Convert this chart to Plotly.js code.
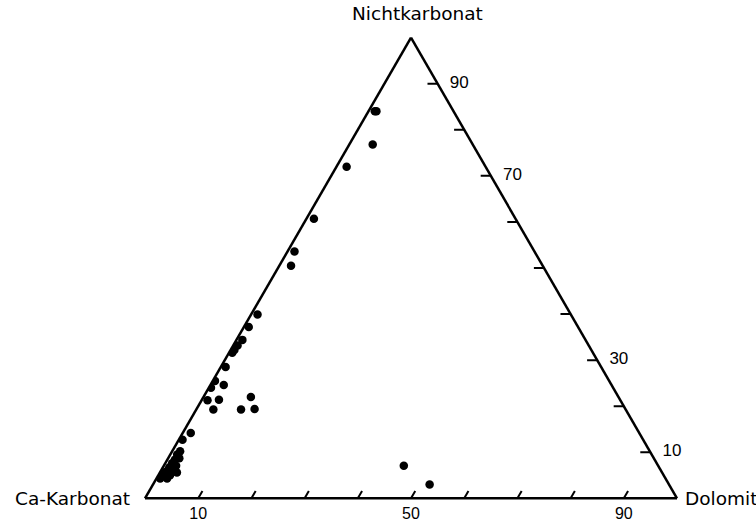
<!DOCTYPE html>
<html>
<head>
<meta charset="utf-8">
<script src="https://cdn.plot.ly/plotly-3.0.1.min.js"></script>
<style>html,body{margin:0;padding:0;background:#fff;}#chart{width:756px;height:524px;}</style>
</head>
<body>
<div id="chart"></div>
<script>
// Component values in percent (each point: Nichtkarbonat + Ca-Karbonat + Dolomit = 100)
const nichtkarbonat = [84.0, 84.0, 76.8, 72.0, 60.7, 53.6, 50.5, 39.9, 37.2, 34.4, 33.2, 32.2, 31.6, 28.5, 25.5, 24.6, 24.0, 21.3, 21.4, 19.3, 22.0, 19.3, 19.4, 14.2, 12.7, 10.2, 9.5, 8.7, 8.4, 7.6, 7.1, 6.7, 6.1, 5.8, 5.6, 5.2, 5.0, 4.3, 4.3, 3.0, 7.1];
const dolomit       = [1.2, 1.5, 4.4, 1.9, 1.4, 1.3, 2.2, 1.2, 0.9, 1.1, 0.8, 0.7, 0.6, 0.9, 0.4, 2.5, 0.4, 1.1, 3.2, 3.2, 8.9, 8.4, 10.9, 1.5, 0.7, 1.5, 1.3, 2.1, 1.4, 1.3, 2.3, 1.2, 2.2, 1.0, 3.2, 0.8, 2.2, 0.7, 2.0, 52.0, 45.1];
const caKarbonat    = [14.8, 14.5, 18.8, 26.1, 37.9, 45.1, 47.3, 58.9, 61.9, 64.5, 66.0, 67.1, 67.8, 70.6, 74.1, 72.9, 75.6, 77.6, 75.4, 77.5, 69.1, 72.3, 69.7, 84.3, 86.6, 88.3, 89.2, 89.2, 90.2, 91.1, 90.6, 92.1, 91.7, 93.2, 91.2, 94.0, 92.8, 95.0, 93.7, 45.0, 47.8];

// Tick marks (every 10 %) and labelled values
const tickValues = [10, 20, 30, 40, 50, 60, 70, 80, 90];
const dolomitLabels = [10, 50, 90];          // bottom edge
const nichtkarbonatLabels = [10, 30, 70, 90]; // right edge

const TICK_B = 1.6;  // tick length (in % units) along bottom edge
const TICK_R = 1.9;  // tick length along right edge

// bottom-edge ticks: lines of constant Dolomit going inward
const tb = {a: [], b: [], c: []};
tickValues.forEach(v => {
  tb.a.push(0, TICK_B, null);
  tb.c.push(v, v, null);
  tb.b.push(100 - v, 100 - v - TICK_B, null);
});
// right-edge ticks: lines of constant Nichtkarbonat going inward
const tr = {a: [], b: [], c: []};
tickValues.forEach(v => {
  tr.a.push(v, v, null);
  tr.b.push(0, TICK_R, null);
  tr.c.push(100 - v, 100 - v - TICK_R, null);
});

const traces = [
  {type: 'scatterternary', mode: 'lines', a: tb.a, b: tb.b, c: tb.c,
   line: {color: '#000', width: 2}, hoverinfo: 'skip', showlegend: false},
  {type: 'scatterternary', mode: 'lines', a: tr.a, b: tr.b, c: tr.c,
   line: {color: '#000', width: 2}, hoverinfo: 'skip', showlegend: false},
  {type: 'scatterternary', mode: 'markers',
   a: nichtkarbonat, b: caKarbonat, c: dolomit,
   marker: {color: '#000', size: 8.5, line: {width: 0}},
   showlegend: false}
];

const numFontR = {family: 'Liberation Sans, Arial, sans-serif', size: 17, color: '#000'};
const numFontB = {family: 'Liberation Sans, Arial, sans-serif', size: 16, color: '#000'};
const titleFont = {family: 'DejaVu Sans, sans-serif', size: 18.5, color: '#000'};
const PAD = '\u00a0\u00a0';

const baseAxis = {
  showgrid: false, ticks: '', showline: true, linecolor: '#000', linewidth: 2.5,
  title: {text: ''}
};

const layout = {
  width: 756, height: 524,
  margin: {l: 145, r: 79, t: 37, b: 25},
  paper_bgcolor: '#fff',
  showlegend: false,
  ternary: {
    sum: 100,
    bgcolor: '#fff',
    aaxis: Object.assign({}, baseAxis, {showticklabels: false}),
    baxis: Object.assign({}, baseAxis, {
      tickfont: numFontB,
      tickmode: 'array',
      tickvals: dolomitLabels.map(v => 100 - v),
      ticktext: dolomitLabels.map(String)
    }),
    caxis: Object.assign({}, baseAxis, {
      tickfont: numFontR,
      tickmode: 'array',
      tickvals: nichtkarbonatLabels.map(v => 100 - v),
      ticktext: nichtkarbonatLabels.map(v => PAD + String(v))
    })
  },
  annotations: [
    {text: 'Nichtkarbonat', xref: 'paper', yref: 'paper', x: 0.513, y: 1.05,
     xanchor: 'center', yanchor: 'middle', showarrow: false, font: titleFont},
    {text: 'Ca-Karbonat', xref: 'paper', yref: 'paper', x: -0.024, y: 0.002,
     xanchor: 'right', yanchor: 'middle', showarrow: false, font: titleFont},
    {text: 'Dolomit', xref: 'paper', yref: 'paper', x: 1.0113, y: 0.002,
     xanchor: 'left', yanchor: 'middle', showarrow: false, font: titleFont}
  ]
};

Plotly.newPlot('chart', traces, layout, {staticPlot: true, displayModeBar: false});
</script>
</body>
</html>
